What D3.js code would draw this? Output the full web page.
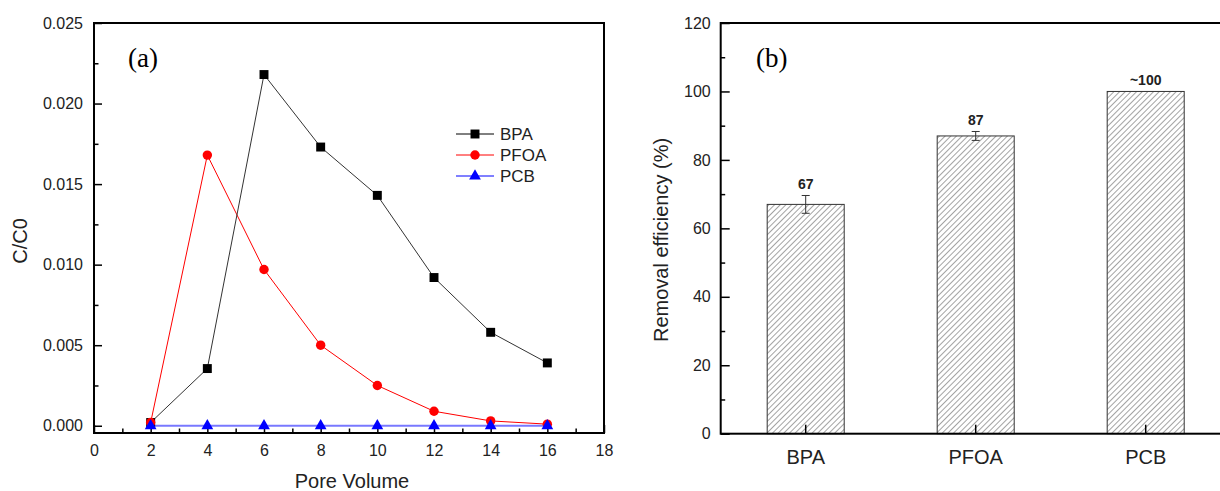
<!DOCTYPE html>
<html>
<head>
<meta charset="utf-8">
<script src="https://cdn.jsdelivr.net/npm/d3@7"></script>
<style>
  body { margin: 0; background: #fff; }
  svg { display: block; font-family: "Liberation Sans", Arial, sans-serif; }
  .axis text { font-size: 16px; fill: #222; }
  .axis path { display: none; }
  .axis line { stroke: #000; stroke-width: 1.5; }
</style>
</head>
<body>
<div id="chart"></div>
<script>
// Panel (a) data: breakthrough C/C0 vs pore volume
const poreVolume = [2, 4, 6, 8, 10, 12, 14, 16];
const bpa = [0.0002, 0.00355, 0.0218, 0.0173, 0.0143, 0.0092, 0.0058, 0.0039];
const pfoa = [0.0002, 0.0168, 0.0097, 0.0050, 0.0025, 0.0009, 0.0003, 0.0001];
const pcb = [0, 0, 0, 0, 0, 0, 0, 0];
const xTicksA = [0, 2, 4, 6, 8, 10, 12, 14, 16, 18];
const yTicksA = [0, 0.005, 0.01, 0.015, 0.02, 0.025];

// Panel (b) data: removal efficiency
const compounds = ["BPA", "PFOA", "PCB"];
const removal = [67, 87, 100];
const removalErr = [2.6, 1.3, 0];
const removalLabels = ["67", "87", "~100"];
const yTicksB = [0, 20, 40, 60, 80, 100, 120];

const width = 1220, height = 491;

const svg = d3.select("#chart").append("svg")
  .attr("width", width)
  .attr("height", height);

// hatch pattern for bars
const defs = svg.append("defs");
defs.append("pattern")
  .attr("id", "hatch")
  .attr("patternUnits", "userSpaceOnUse")
  .attr("width", 4)
  .attr("height", 4)
  .attr("patternTransform", "rotate(45)")
  .append("line")
  .attr("x1", 0).attr("y1", 0)
  .attr("x2", 0).attr("y2", 4)
  .attr("stroke", "#333")
  .attr("stroke-width", 0.9);

// ---------- Panel (a) ----------
const ax = { left: 94, right: 604, top: 23, bottom: 433 };
const xA = d3.scaleLinear().domain([0, 18]).range([ax.left, ax.right]);
const yA = d3.scaleLinear().domain([-0.00045, 0.025]).range([ax.bottom, ax.top]);

const gA = svg.append("g");

// minor ticks
gA.append("g").attr("class", "axis")
  .attr("transform", `translate(${ax.left},0)`)
  .call(d3.axisLeft(yA).tickValues(d3.range(0.0025, 0.025, 0.005)).tickSize(-4.5).tickFormat(""));
gA.append("g").attr("class", "axis")
  .attr("transform", `translate(0,${ax.bottom})`)
  .call(d3.axisBottom(xA).tickValues(d3.range(1, 18, 2)).tickSize(-4.5).tickFormat(""));

// major ticks
gA.append("g").attr("class", "axis")
  .attr("transform", `translate(${ax.left},0)`)
  .call(d3.axisLeft(yA).tickValues(yTicksA).tickSize(-8).tickPadding(11).tickFormat(d3.format(".3f")));
gA.append("g").attr("class", "axis")
  .attr("transform", `translate(0,${ax.bottom})`)
  .call(d3.axisBottom(xA).tickValues(xTicksA).tickSize(-8).tickPadding(12).tickFormat(d3.format("d")));

gA.append("rect")
  .attr("x", ax.left).attr("y", ax.top)
  .attr("width", ax.right - ax.left).attr("height", ax.bottom - ax.top)
  .attr("fill", "none").attr("stroke", "#000").attr("stroke-width", 2);

const seriesA = [
  { name: "BPA", values: bpa, color: "#000", lineColor: "#333", lw: 1, shape: d3.symbolSquare, size: 80 },
  { name: "PFOA", values: pfoa, color: "#ff0000", lineColor: "#ff0000", lw: 1, shape: d3.symbolCircle, size: 70 },
  { name: "PCB", values: pcb, color: "#0000ff", lineColor: "#7878ff", lw: 2, shape: d3.symbolTriangle, size: 60 }
];

const line = d3.line()
  .x((d, i) => xA(poreVolume[i]))
  .y(d => yA(d));

// draw lines first in reverse order so BPA sits on top
seriesA.slice().reverse().forEach(s => {
  gA.append("path")
    .datum(s.values)
    .attr("d", line)
    .attr("fill", "none")
    .attr("stroke", s.lineColor)
    .attr("stroke-width", s.lw);
});

seriesA.forEach(s => {
  gA.append("g").selectAll("path")
    .data(s.values)
    .enter()
    .append("path")
    .attr("transform", (d, i) => `translate(${xA(poreVolume[i])},${yA(d)})`)
    .attr("d", d3.symbol().type(s.shape).size(s.size))
    .attr("fill", s.color);
});

// legend
const legend = gA.append("g").attr("transform", "translate(456,134)");
seriesA.forEach((s, i) => {
  const row = legend.append("g").attr("transform", `translate(0,${i * 21})`);
  row.append("line")
    .attr("x1", 0).attr("x2", 38)
    .attr("stroke", s.color).attr("stroke-width", 1);
  row.append("path")
    .attr("transform", "translate(19,0)")
    .attr("d", d3.symbol().type(s.shape).size(s.size))
    .attr("fill", s.color);
  row.append("text")
    .attr("x", 44).attr("y", 6)
    .style("font-size", "17px")
    .attr("fill", "#222")
    .text(s.name);
});

gA.append("text")
  .attr("x", 128).attr("y", 67)
  .style("font-family", "'Liberation Serif', 'Times New Roman', serif")
  .style("font-size", "27px")
  .text("(a)");

gA.append("text")
  .attr("x", 352).attr("y", 488)
  .attr("text-anchor", "middle")
  .style("font-size", "20px")
  .attr("fill", "#222")
  .text("Pore Volume");

gA.append("text")
  .attr("transform", "translate(27,241) rotate(-90)")
  .attr("text-anchor", "middle")
  .style("font-size", "20px")
  .attr("fill", "#222")
  .text("C/C0");

// ---------- Panel (b) ----------
const bx = { left: 720.7, right: 1230.7, top: 23, bottom: 433.7 };
const xB = d3.scaleBand().domain(compounds)
  .range([bx.left, bx.right])
  .paddingInner(0.547)
  .paddingOuter(0.2735);
const yB = d3.scaleLinear().domain([0, 120]).range([bx.bottom, bx.top]);

const gB = svg.append("g");

// bars
gB.append("g").selectAll("rect")
  .data(removal)
  .enter()
  .append("rect")
  .attr("x", (d, i) => xB(compounds[i]))
  .attr("y", d => yB(d))
  .attr("width", xB.bandwidth())
  .attr("height", d => yB(0) - yB(d))
  .attr("fill", "url(#hatch)")
  .attr("stroke", "#333")
  .attr("stroke-width", 1);

// error bars
removal.forEach((v, i) => {
  const e = removalErr[i];
  if (!e) return;
  const cx = xB(compounds[i]) + xB.bandwidth() / 2;
  const eg = gB.append("g").attr("stroke", "#333").attr("stroke-width", 1);
  eg.append("line").attr("x1", cx).attr("x2", cx).attr("y1", yB(v - e)).attr("y2", yB(v + e));
  eg.append("line").attr("x1", cx - 4).attr("x2", cx + 4).attr("y1", yB(v - e)).attr("y2", yB(v - e));
  eg.append("line").attr("x1", cx - 4).attr("x2", cx + 4).attr("y1", yB(v + e)).attr("y2", yB(v + e));
});

// value labels
gB.append("g").selectAll("text")
  .data(removal)
  .enter()
  .append("text")
  .attr("x", (d, i) => xB(compounds[i]) + xB.bandwidth() / 2)
  .attr("y", (d, i) => yB(d + removalErr[i]) - 6)
  .attr("text-anchor", "middle")
  .style("font-size", "14px")
  .style("font-weight", "bold")
  .attr("fill", "#222")
  .text((d, i) => removalLabels[i]);

// axes
gB.append("g").attr("class", "axis")
  .attr("transform", `translate(${bx.left},0)`)
  .call(d3.axisLeft(yB).tickValues(d3.range(10, 120, 20)).tickSize(-4.5).tickFormat(""));
gB.append("g").attr("class", "axis")
  .attr("transform", `translate(${bx.left},0)`)
  .call(d3.axisLeft(yB).tickValues(yTicksB).tickSize(-9).tickPadding(10));
gB.append("g").attr("class", "axis")
  .attr("transform", `translate(0,${bx.bottom})`)
  .call(d3.axisBottom(xB).tickSize(-9).tickPadding(16))
  .selectAll("text").style("font-size", "20px");

gB.append("rect")
  .attr("x", bx.left).attr("y", bx.top)
  .attr("width", bx.right - bx.left).attr("height", bx.bottom - bx.top)
  .attr("fill", "none").attr("stroke", "#000").attr("stroke-width", 2);

gB.append("text")
  .attr("x", 756).attr("y", 67)
  .style("font-family", "'Liberation Serif', 'Times New Roman', serif")
  .style("font-size", "27px")
  .text("(b)");

gB.append("text")
  .attr("transform", "translate(668,240) rotate(-90)")
  .attr("text-anchor", "middle")
  .style("font-size", "20px")
  .attr("fill", "#222")
  .text("Removal efficiency (%)");
</script>
</body>
</html>
